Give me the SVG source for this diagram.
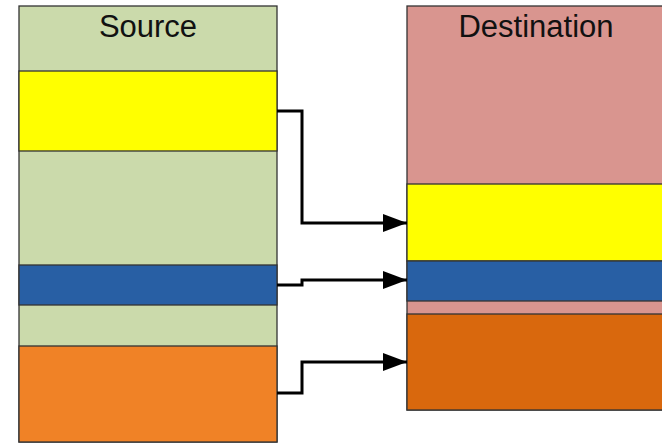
<svg xmlns="http://www.w3.org/2000/svg" width="662" height="443" viewBox="0 0 662 443">
<defs>
<style>
.b{stroke:#333;stroke-width:1.3}
.t{font-family:"Liberation Sans",Arial,sans-serif;font-size:31px;fill:#111;text-anchor:middle}
.c{fill:none;stroke:#000;stroke-width:3;stroke-linejoin:miter}
</style>
<marker id="ah" markerUnits="userSpaceOnUse" markerWidth="26" markerHeight="18" refX="24" refY="9" orient="auto">
<path d="M0,0 L24,9 L0,18 Z" fill="#000"/>
</marker>
</defs>
<rect width="662" height="443" fill="#fff"/>
<g id="source">
<rect class="b" x="19" y="6" width="258" height="436" fill="#cbdaab"/>
<rect class="b" x="19" y="71" width="258" height="80" fill="#ffff00"/>
<rect class="b" x="19" y="265" width="258" height="40" fill="#285fa4"/>
<rect class="b" x="19" y="346" width="258" height="96" fill="#f08226"/>
<text class="t" x="148" y="37">Source</text>
</g>
<g id="destination">
<rect class="b" x="407" y="6" width="258" height="404" fill="#d9958f"/>
<rect class="b" x="407" y="184" width="258" height="77" fill="#ffff00"/>
<rect class="b" x="407" y="261" width="258" height="40" fill="#285fa4"/>
<rect class="b" x="407" y="314" width="258" height="96" fill="#d9680d"/>
<text class="t" x="536" y="37">Destination</text>
</g>
<g id="connectors">
<path class="c" d="M277,111 H302 V223 H407" marker-end="url(#ah)"/>
<path class="c" d="M277,285 H302 V280 H407" marker-end="url(#ah)"/>
<path class="c" d="M277,393 H302 V362 H407" marker-end="url(#ah)"/>
</g>
</svg>
